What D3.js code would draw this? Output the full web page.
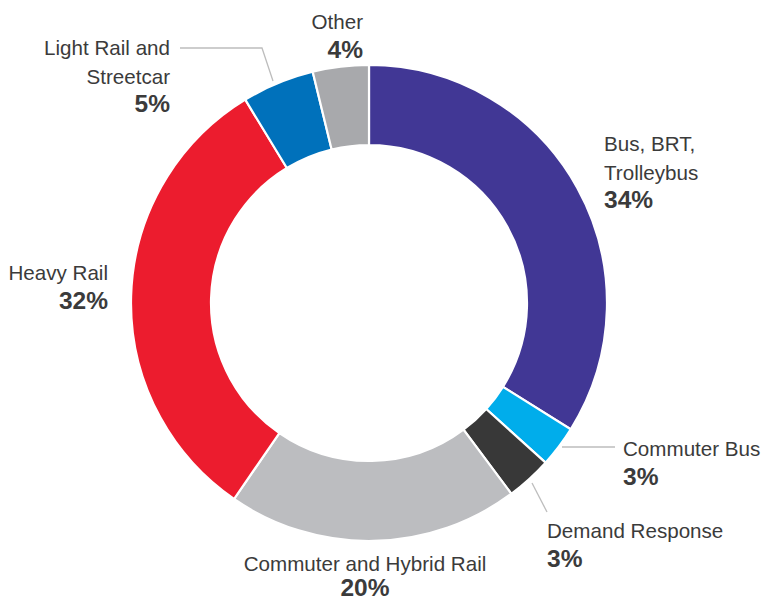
<!DOCTYPE html>
<html>
<head>
<meta charset="utf-8">
<script src="https://cdn.jsdelivr.net/npm/d3@7"></script>
<style>
  html, body { margin: 0; padding: 0; background: #ffffff; }
  svg { display: block; }
  text { font-family: "Liberation Sans", Arial, Helvetica, sans-serif; fill: #3b3b3b; }
</style>
</head>
<body>
<svg id="chart" width="767" height="602"></svg>
<script>
// Categories (clockwise from 12 o'clock)
const categories = ["Bus, BRT, Trolleybus", "Commuter Bus", "Demand Response", "Commuter and Hybrid Rail", "Heavy Rail", "Light Rail and Streetcar", "Other"];
// Slice values (share of total, %)
const values = [33.9, 2.8, 3.1, 19.8, 31.7, 4.9, 3.8];
// Printed percentage labels
const pctLabels = ["34%", "3%", "3%", "20%", "32%", "5%", "4%"];
// Label lines as printed
const labelLines = [["Bus, BRT,", "Trolleybus"], ["Commuter Bus"], ["Demand Response"], ["Commuter and Hybrid Rail"], ["Heavy Rail"], ["Light Rail and", "Streetcar"], ["Other"]];
const colors = ["#413795", "#00adeb", "#383838", "#bcbdc0", "#ec1c2e", "#0071bb", "#a8a9ac"];

const svg = d3.select("#chart");
const cx = 369, cy = 303, rOuter = 238, rInner = 158;

const pie = d3.pie().sort(null).value(d => d.v);
const data = categories.map((c, i) => ({ c, v: values[i], col: colors[i], i }));
const arcs = pie(data);
const arc = d3.arc().innerRadius(rInner).outerRadius(rOuter);

const g = svg.append("g").attr("transform", `translate(${cx},${cy})`);
g.selectAll("path").data(arcs).join("path")
  .attr("d", arc)
  .attr("fill", d => d.data.col)
  .attr("stroke", "#ffffff")
  .attr("stroke-width", 2.2)
  .attr("stroke-linejoin", "miter");

// Label placement (position, anchor) for each category
const labelPos = [
  { x: 604, y: 151, anchor: "start" },
  { x: 623, y: 456, anchor: "start" },
  { x: 547, y: 538, anchor: "start" },
  { x: 365, y: 571, anchor: "middle" },
  { x: 108, y: 280, anchor: "end" },
  { x: 170, y: 55, anchor: "end" },
  { x: 363, y: 29, anchor: "end" }
];
const lineH = 28.5;

labelPos.forEach((p, i) => {
  const lines = labelLines[i];
  const t = svg.append("text").attr("text-anchor", p.anchor).attr("font-size", 20.6);
  lines.forEach((ln, k) => {
    t.append("tspan").attr("x", p.x).attr("y", p.y + k * lineH).text(ln);
  });
  svg.append("text")
    .attr("text-anchor", p.anchor)
    .attr("x", p.x)
    .attr("y", Math.min(p.y + lines.length * lineH, 596))
    .attr("font-size", 24.5)
    .attr("font-weight", "bold")
    .text(pctLabels[i]);
});

// Leader lines
const leaders = [
  [[180, 48], [262, 48], [273, 81]],
  [[562, 447], [615, 447]],
  [[532, 483], [547, 512]]
];
leaders.forEach(pts => {
  svg.append("path")
    .attr("d", d3.line()(pts))
    .attr("fill", "none")
    .attr("stroke", "#bdbdbd")
    .attr("stroke-width", 1.3);
});
</script>
</body>
</html>
